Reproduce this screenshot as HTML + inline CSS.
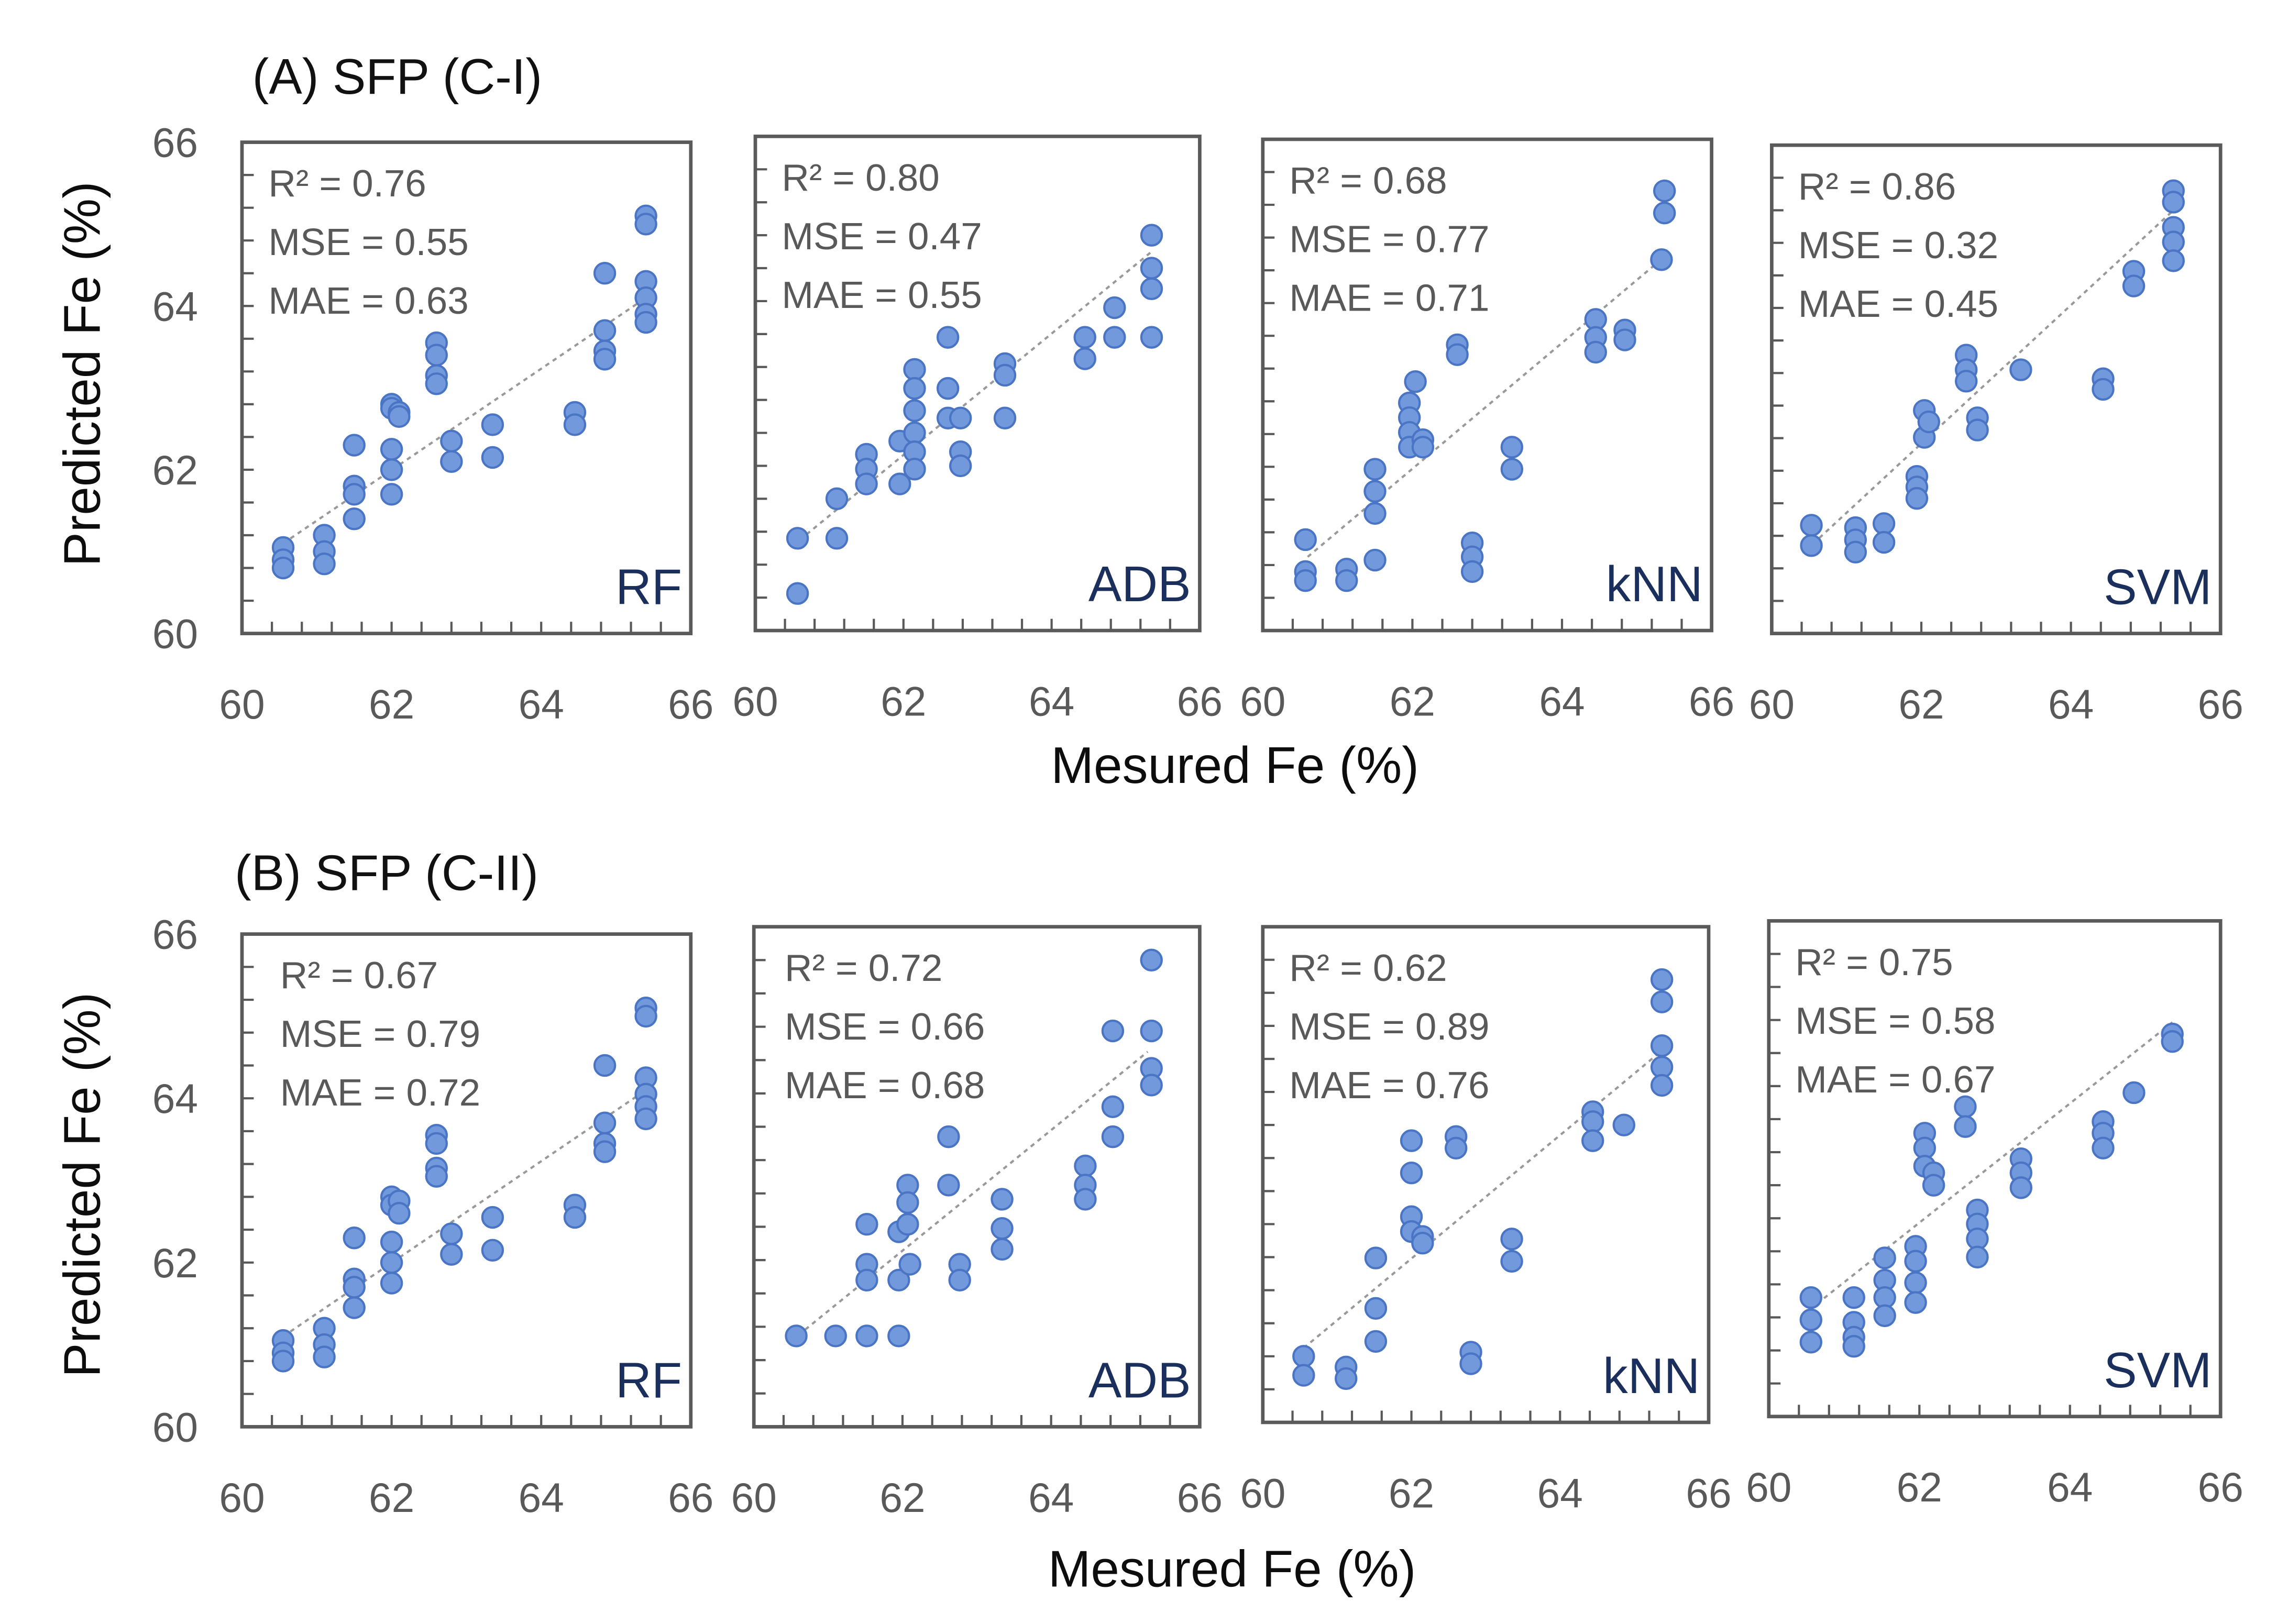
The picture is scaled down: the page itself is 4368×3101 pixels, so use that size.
<!DOCTYPE html>
<html><head><meta charset="utf-8"><style>
html,body{margin:0;padding:0;background:#fff;width:4368px;height:3101px;overflow:hidden}
svg{display:block}
text{font-family:"Liberation Sans",sans-serif}
</style></head><body>
<svg id="fig" width="4368" height="3101" viewBox="0 0 1560 1107.5" xmlns="http://www.w3.org/2000/svg">
<text x="172" y="64" font-size="34" fill="#111">(A) SFP (C-I)</text>
<text x="160" y="607" font-size="34" fill="#111">(B) SFP (C-II)</text>
<text x="842" y="534" font-size="35" fill="#0d0d0d" text-anchor="middle">Mesured Fe (%)</text>
<text x="840" y="1082" font-size="35" fill="#0d0d0d" text-anchor="middle">Mesured Fe (%)</text>
<text transform="translate(68,255) rotate(-90)" font-size="35" fill="#0d0d0d" text-anchor="middle">Predicted Fe (%)</text>
<text transform="translate(68,808) rotate(-90)" font-size="35" fill="#0d0d0d" text-anchor="middle">Predicted Fe (%)</text>
</svg>
<script>
// panel definitions
const panelModels = ["RF","ADB","kNN","SVM","RF","ADB","kNN","SVM"];
const panelR2 = ["0.76","0.80","0.68","0.86","0.67","0.72","0.62","0.75"];
const panelMSE = ["0.55","0.47","0.77","0.32","0.79","0.66","0.89","0.58"];
const panelMAE = ["0.63","0.55","0.71","0.45","0.72","0.68","0.76","0.67"];
const xTicks = [60,62,64,66];
const yTicks = [60,62,64,66];

// series: [measured, predicted]
const rfA_x = [60.55,60.55,60.55,61.1,61.1,61.1,61.5,61.5,61.5,61.5,62.0,62.0,62.0,62.0,62.0,62.1,62.1,62.6,62.6,62.6,62.6,62.8,62.8,63.35,63.35,64.45,64.45,64.85,64.85,64.85,64.85,65.4,65.4,65.4,65.4,65.4,65.4];
const rfA_y = [61.05,60.9,60.8,61.2,61.0,60.85,62.3,61.8,61.7,61.4,62.25,62.0,61.7,62.8,62.75,62.7,62.65,63.55,63.4,63.15,63.05,62.35,62.1,62.55,62.15,62.7,62.55,64.4,63.7,63.45,63.35,65.1,65.0,64.3,64.1,63.9,63.8];
const adbA_x = [60.57,60.57,61.1,61.1,61.5,61.5,61.5,61.95,61.95,62.15,62.15,62.15,62.15,62.15,62.15,62.6,62.6,62.6,62.77,62.77,62.77,63.37,63.37,63.37,64.45,64.45,64.85,64.85,65.35,65.35,65.35,65.35];
const adbA_y = [61.12,60.45,61.6,61.12,62.14,61.96,61.78,62.3,61.78,63.17,62.94,62.67,62.4,62.17,61.96,63.56,62.94,62.58,62.58,62.17,62.0,63.24,63.1,62.58,63.56,63.3,63.92,63.56,64.8,64.4,64.15,63.56];
const knnA_x = [60.57,60.57,60.57,61.12,61.12,61.5,61.5,61.5,61.5,61.96,61.96,61.96,61.96,62.04,62.14,62.14,62.6,62.6,62.8,62.8,62.8,63.33,63.33,64.45,64.45,64.45,64.84,64.84,65.37,65.37,65.33];
const knnA_y = [61.11,60.72,60.61,60.75,60.61,61.97,61.7,61.43,60.86,62.78,62.6,62.42,62.24,63.04,62.33,62.24,63.49,63.37,61.07,60.9,60.72,62.24,61.97,63.8,63.58,63.4,63.67,63.55,65.37,65.1,64.53];
const svmA_x = [60.53,60.53,61.12,61.12,61.12,61.5,61.5,61.94,61.94,61.94,62.04,62.04,62.1,62.6,62.6,62.6,62.75,62.75,63.33,64.43,64.43,64.84,64.84,65.37,65.37,65.37,65.37,65.37];
const svmA_y = [61.33,61.08,61.3,61.15,61.0,61.35,61.12,61.93,61.8,61.66,62.74,62.41,62.6,63.42,63.24,63.1,62.65,62.5,63.24,63.13,63.0,64.45,64.27,65.44,65.3,64.99,64.81,64.58];
const rfB_x = [60.55,60.55,60.55,61.1,61.1,61.1,61.5,61.5,61.5,61.5,62.0,62.0,62.0,62.0,62.0,62.1,62.1,62.6,62.6,62.6,62.6,62.8,62.8,63.35,63.35,64.45,64.45,64.85,64.85,64.85,64.85,65.4,65.4,65.4,65.4,65.4,65.4];
const rfB_y = [61.05,60.9,60.8,61.2,61.0,60.85,62.3,61.8,61.7,61.45,62.25,62.0,61.75,62.8,62.7,62.75,62.6,63.55,63.45,63.15,63.05,62.35,62.1,62.55,62.15,62.7,62.55,64.4,63.7,63.45,63.35,65.1,65.0,64.25,64.05,63.9,63.75];
const adbB_x = [60.57,61.1,61.52,61.95,61.52,61.52,61.52,61.95,61.95,62.07,62.07,62.07,62.1,62.62,62.62,62.77,62.77,63.34,63.34,63.34,64.46,64.46,64.46,64.83,64.83,64.83,65.35,65.35,65.35,65.35];
const adbB_y = [61.09,61.09,61.09,61.09,62.43,61.95,61.76,62.34,61.76,62.9,62.69,62.43,61.95,63.48,62.9,61.95,61.76,62.73,62.38,62.13,63.13,62.9,62.73,64.75,63.84,63.48,65.6,64.75,64.3,64.1];
const knnB_x = [60.55,60.55,61.12,61.12,61.52,61.52,61.52,62.0,62.0,62.0,62.0,62.15,62.15,62.6,62.6,62.8,62.8,63.35,63.35,64.44,64.44,64.44,64.86,65.37,65.37,65.37,65.37,65.37];
const knnB_y = [60.8,60.57,60.67,60.53,61.99,61.38,60.98,63.41,63.02,62.49,62.31,62.25,62.17,63.46,63.32,60.85,60.71,62.22,61.95,63.76,63.64,63.41,63.6,65.36,65.09,64.56,64.3,64.08];
const svmB_x = [60.56,60.56,60.56,61.13,61.13,61.13,61.13,61.54,61.54,61.54,61.54,61.95,61.95,61.95,61.95,62.07,62.07,62.07,62.19,62.19,62.61,62.61,62.77,62.77,62.77,62.77,63.35,63.35,63.35,64.44,64.44,64.44,64.85,65.36,65.36];
const svmB_y = [61.44,61.17,60.9,61.44,61.14,60.96,60.85,61.92,61.65,61.44,61.22,62.06,61.88,61.62,61.38,63.43,63.25,63.03,62.95,62.8,63.75,63.51,62.5,62.33,62.15,61.93,63.12,62.95,62.77,63.57,63.43,63.25,63.92,64.63,64.54];
const seriesX = [rfA_x,adbA_x,knnA_x,svmA_x,rfB_x,adbB_x,knnB_x,svmB_x];
const seriesY = [rfA_y,adbA_y,knnA_y,svmA_y,rfB_y,adbB_y,knnB_y,svmB_y];
// trend line endpoints [x1,y1,x2,y2]
const trendLines = [[60.55,61.1,65.4,64.1],[60.6,61.1,65.35,64.6],[60.6,60.9,65.35,64.55],[60.55,61.1,65.37,65.2],[60.55,61.1,65.4,64.1],[60.6,61.1,65.3,64.5],[60.55,60.9,65.37,64.5],[60.55,61.3,65.4,64.8]];

// layout boxes (viewBox units)
const boxes = [[165,97,471,432],[515,93,818,430],[861,95,1167,430],[1208,99,1514,432],
               [165,637,471,973],[514,632,818,973],[861,632,1165,970],[1206,628,1514,966]];
const svg = document.getElementById('fig');
const NS = 'http://www.w3.org/2000/svg';
function mk(tag, attrs){const e=document.createElementNS(NS,tag);for(const k in attrs)e.setAttribute(k,attrs[k]);return e;}

boxes.forEach((b,i)=>{
  const [l,t,r,bt]=b;
  const sx=v=>l+(v-60)/6*(r-l);
  const sy=v=>bt-(v-60)/6*(bt-t);
  const g=mk('g',{});
  
  
  svg.appendChild(g);
  const rect=mk('rect',{x:l,y:t,width:r-l,height:bt-t,fill:'none',stroke:'#5a5a5a','stroke-width':2.4});
  
  
  g.appendChild(rect);
  for(let k=1;k<15;k++){
    const v=60+k*0.4;
    const tx=mk('line',{x1:sx(v),x2:sx(v),y1:bt,y2:bt-8,stroke:'#595959','stroke-width':1.5});
    
    
    g.appendChild(tx);
    const ty=mk('line',{x1:l,x2:l+8,y1:sy(v),y2:sy(v),stroke:'#595959','stroke-width':1.5});
    
    
    g.appendChild(ty);
  }
  xTicks.forEach(v=>{
    const tl=mk('text',{x:sx(v),y:bt+58,'font-size':28,fill:'#595959','text-anchor':'middle'});
    tl.textContent=v;
    
    
    g.appendChild(tl);
  });
  if(i%4===0){
    yTicks.forEach(v=>{
      const tl=mk('text',{x:l-30,y:sy(v)+10,'font-size':28,fill:'#595959','text-anchor':'end'});
      tl.textContent=v;
      
      
      g.appendChild(tl);
    });
  }
  const tr=trendLines[i];
  const tl=mk('line',{x1:sx(tr[0]),y1:sy(tr[1]),x2:sx(tr[2]),y2:sy(tr[3]),stroke:'#999','stroke-width':1.5,'stroke-dasharray':'3,3'});
  
  
  g.appendChild(tl);
  seriesX[i].forEach((xv,j)=>{
    const c=mk('circle',{cx:sx(xv),cy:sy(seriesY[i][j]),r:7,fill:'#7399dd',stroke:'#4a74c4','stroke-width':1.5});
    
    
    g.appendChild(c);
  });
  const lines=['R² = '+panelR2[i],'MSE = '+panelMSE[i],'MAE = '+panelMAE[i]];
  const off=(i===4||i===5)?(i===4?8:3):0;
  lines.forEach((s,k)=>{
    const st=mk('text',{x:l+18+off,y:t+37+k*40,'font-size':26,fill:'#595959'});
    st.textContent=s;
    
    
    g.appendChild(st);
  });
  const ml=mk('text',{x:r-6,y:bt-20,'font-size':34,fill:'#1a2f5c','text-anchor':'end'});
  ml.textContent=panelModels[i];
  
  
  g.appendChild(ml);
});
</script>
</body></html>
